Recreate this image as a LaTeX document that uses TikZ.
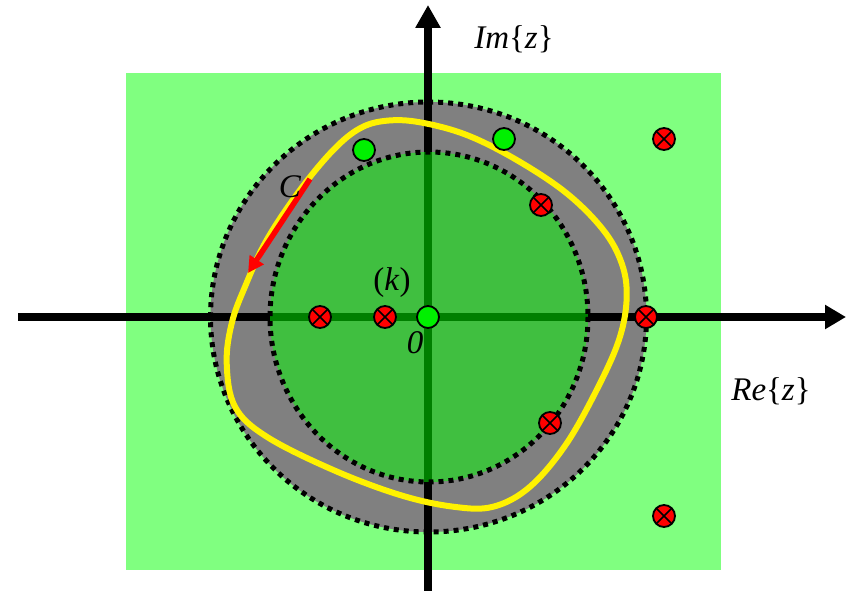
\documentclass[tikz,border=0pt]{standalone}
\usepackage{fontspec}
\setmainfont{Liberation Serif}
\usetikzlibrary{arrows.meta}
\definecolor{bggreen}{HTML}{80FF80}
\definecolor{ringgray}{HTML}{808080}
\definecolor{diskgreen}{HTML}{40BF40}
\definecolor{axgreen}{HTML}{007F00}
\definecolor{ptgreen}{HTML}{00F000}
\begin{document}
\begin{tikzpicture}[x=1pt,y=-1pt,
  dotring/.style={draw=black,line width=5pt,dash pattern=on 5pt off 5pt},
  axis/.style={line width=7.5pt,draw=black},
  inaxis/.style={line width=7.5pt,draw=axgreen},
  lbl/.style={font=\fontsize{33}{36}\selectfont,anchor=base,inner sep=0pt},
  zero/.style={circle,draw=black,line width=1.8pt,fill=ptgreen,minimum size=22pt,inner sep=0pt},
  pole/.style={circle,draw=black,line width=1.8pt,fill=red,minimum size=22pt,inner sep=0pt,
    path picture={\draw[line width=1.6pt]
      (path picture bounding box.north west)--(path picture bounding box.south east)
      (path picture bounding box.north east)--(path picture bounding box.south west);}},
  contour/.style={draw=yellow,line width=6pt},
  dirarrow/.style={draw=red,line width=5.5pt,-{Triangle[width=16pt,length=16pt]}}
]
\useasboundingbox (0,0) rectangle (846,591);
% background
\fill[bggreen] (126,73) rectangle (721,570);
% annulus and disk
\fill[ringgray] (428.5,317) ellipse [x radius=218,y radius=215];
\fill[diskgreen] (429,317) ellipse [x radius=159,y radius=165];
% axes
\coordinate (xa) at (18,317);
\coordinate (xb) at (846,317);
\coordinate (ya) at (428,591);
\coordinate (yb) at (428,5);
\draw[axis,-{Triangle[width=23pt,length=21pt]}] (xa) -- (xb);
\draw[axis,-{Triangle[width=24pt,length=23pt]}] (ya) -- (yb);
\begin{scope}
  \clip (429,317) ellipse [x radius=159,y radius=165];
  \coordinate (ixa) at (270,317);
  \coordinate (ixb) at (588,317);
  \coordinate (iya) at (428,152);
  \coordinate (iyb) at (428,482);
  \draw[inaxis] (ixa) -- (ixb);
  \draw[inaxis] (iya) -- (iyb);
\end{scope}
% dotted circles
\draw[dotring] (428.5,317) ellipse [x radius=218,y radius=215];
\draw[dotring] (429,317) ellipse [x radius=159,y radius=165];
% contour C
\draw[contour] plot[smooth cycle,tension=0.6] coordinates {
 (386.7,120.7) (420,122.3) (466.7,135) (516.7,160) (566.7,193.3) (603.3,230)
 (621.7,263.3) (626.7,296.7) (620,336.7) (600,383.3) (566.7,443.3) (530,486.7)
 (493.3,506.7) (453.3,506.7) (400,495) (333.3,470) (266.7,436.7) (235,406.7)
 (226.7,363.3) (231.7,323.3) (245,286.7) (266.7,240) (300,190) (333.3,150) (360,128.3)};
% direction arrow
\coordinate (ca) at (310,179);
\coordinate (cb) at (248,273);
\draw[dirarrow] (ca) -- (cb);
% zeros
\node[zero] (z0) at (428,317) {};
\node[zero] (z1) at (364,150) {};
\node[zero] (z2) at (504,139) {};
% poles
\node[pole] (p1) at (320,317) {};
\node[pole] (p2) at (385,317) {};
\node[pole] (p3) at (541,205) {};
\node[pole] (p4) at (646,317) {};
\node[pole] (p5) at (550,423) {};
\node[pole] (p6) at (664,139) {};
\node[pole] (p7) at (664,516) {};
% labels
\node[lbl] (lim) at (514,49) {\textit{Im}\{\textit{z}\}};
\node[lbl] (lre) at (771,400) {\textit{Re}\{\textit{z}\}};
\node[lbl] (lk) at (392,290) {(\textit{k})};
\node[lbl] (l0) at (415,353) {\textit{0}};
\node[lbl] (lc) at (290,197) {\textit{C}};
\end{tikzpicture}
\end{document}
